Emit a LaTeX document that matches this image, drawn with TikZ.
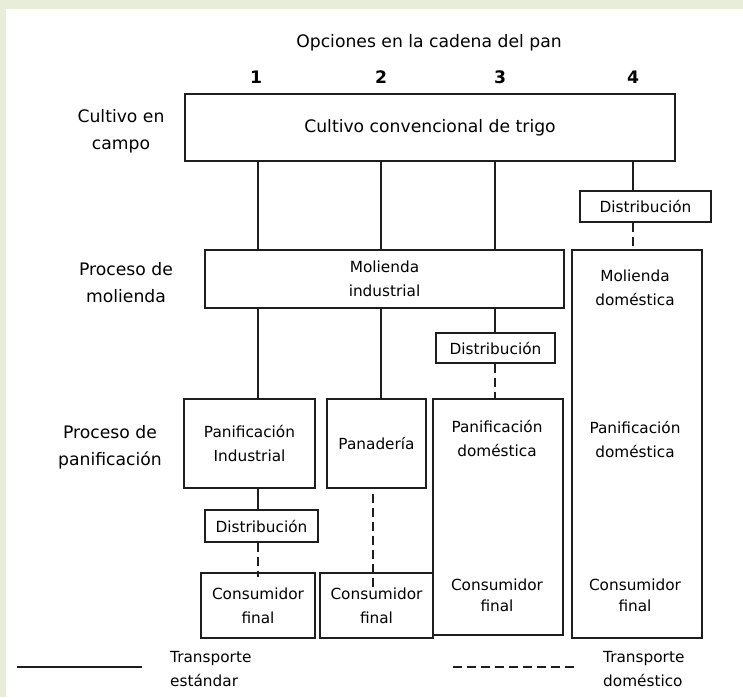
\documentclass[tikz,border=0pt]{standalone}
\usepackage{fontspec}
\setmainfont{DejaVu Sans}
\definecolor{fondo}{HTML}{E8EDDA}
\definecolor{linea}{HTML}{1E1E1E}
\newcommand{\txtgrande}{\fontsize{17.2}{27}\selectfont}
\newcommand{\txtchico}{\fontsize{15.3}{24}\selectfont}
\newcommand{\txtjunto}{\fontsize{15.3}{21}\selectfont}
\tikzset{
  caja/.style={draw=linea, line width=1.6pt, inner sep=0pt, align=center, font=\txtchico},
  texto/.style={inner sep=0pt, align=center, font=\txtchico},
  etiqueta/.style={inner sep=0pt, align=center, font=\txtgrande},
  conexion/.style={draw=linea, line width=1.6pt},
  domestico/.style={conexion, dash pattern=on 9pt off 5pt},
}

\begin{document}
\begin{tikzpicture}[x=1pt,y=-1pt]
	% Fondo
	\fill[fondo] (0,0) rectangle (743,697);
	\fill[white] (6,9) rectangle (743,697);
	\useasboundingbox (0,0) rectangle (743,697);

	% Encabezado y opciones
	\node[etiqueta] (titulo) at (429,43) {Opciones en la cadena del pan};
	\node[etiqueta, font=\txtgrande\bfseries] (op1) at (256,77) {1};
	\node[etiqueta, font=\txtgrande\bfseries] (op2) at (381,77) {2};
	\node[etiqueta, font=\txtgrande\bfseries] (op3) at (500,77) {3};
	\node[etiqueta, font=\txtgrande\bfseries] (op4) at (633,77) {4};

	% Etapas
	\node[etiqueta] (campo) at (121,131) {Cultivo en\\campo};
	\node[etiqueta] (molienda) at (126,283) {Proceso de\\molienda};
	\node[etiqueta] (panificacion) at (110,447) {Proceso de\\panificación};

	% Columnas
	\coordinate (c1) at (258,0);
	\coordinate (c2) at (381,0);
	\coordinate (c2d) at (373,0);
	\coordinate (c3) at (495,0);
	\coordinate (c4) at (633,0);

	% Cajas
	\node[caja, font=\txtgrande, minimum width=490pt, minimum height=67pt] (cultivo) at (430,127.5) {Cultivo convencional de trigo};
	\node[caja, minimum width=131pt, minimum height=31pt] (dist4) at (645.5,206.5) {Distribución};
	\node[caja, minimum width=359pt, minimum height=58pt] (molind) at (384.5,279) {Molienda\\industrial};
	\node[caja, minimum width=130pt, minimum height=388pt] (dom4) at (637,444) {};
	\node[caja, minimum width=119pt, minimum height=30pt] (dist3) at (495.5,348) {Distribución};
	\node[caja, minimum width=131pt, minimum height=89pt] (panind) at (249.5,443.5) {Panificación\\Industrial};
	\node[caja, minimum width=99pt, minimum height=89pt] (panad) at (376.5,443.5) {Panadería};
	\node[caja, minimum width=130pt, minimum height=236pt] (dom3) at (498,517) {};
	\node[caja, minimum width=113pt, minimum height=32pt] (dist1) at (261.5,526) {Distribución};
	\node[caja, minimum width=114pt, minimum height=65pt] (cons1) at (258,605.5) {Consumidor\\final};
	\node[caja, minimum width=113pt, minimum height=65pt] (cons2) at (376.5,605.5) {Consumidor\\final};

	% Textos en las cajas domesticas
	\node[texto] (moldom4) at (635,287.5) {Molienda\\doméstica};
	\node[texto] (pandom4) at (635,439.5) {Panificación\\doméstica};
	\node[texto, font=\txtjunto] (consdom4) at (635,595.5) {Consumidor\\final};
	\node[texto] (pandom3) at (497,438) {Panificación\\doméstica};
	\node[texto, font=\txtjunto] (consdom3) at (497,595) {Consumidor\\final};

	% Transporte
	\foreach \c in {c1,c2,c3}
		\draw[conexion] (cultivo.south -| \c) -- (molind.north -| \c);
	\draw[conexion] (cultivo.south -| c4) -- (dist4.north -| c4);
	\draw[domestico] (dist4.south -| c4) -- (dom4.north -| c4);
	\draw[conexion] (molind.south -| c1) -- (panind.north -| c1);
	\draw[conexion] (molind.south -| c2) -- (panad.north -| c2);
	\draw[conexion] (molind.south -| c3) -- (dist3.north -| c3);
	\draw[domestico] (dist3.south -| c3) -- (dom3.north -| c3);
	\draw[conexion] (panind.south -| c1) -- (dist1.north -| c1);
	\draw[domestico, shorten >=-5pt] (dist1.south -| c1) -- (cons1.north -| c1);
	\draw[domestico, shorten <=5pt, shorten >=-17pt] (panad.south -| c2d) -- (cons2.north -| c2d);

	% Leyenda
	\coordinate (sol1) at (17,667);
	\coordinate (sol2) at (142,667);
	\draw[conexion, line width=2.6pt] (sol1) -- (sol2);
	\node[texto, anchor=west, align=left] (leyest) at (170,669) {Transporte\\estándar};
	\coordinate (dash1) at (453,667);
	\coordinate (dash2) at (574,667);
	\draw[domestico] (dash1) -- (dash2);
	\node[texto, anchor=west, align=left] (leydom) at (603,669) {Transporte\\doméstico};
\end{tikzpicture}
\end{document}
